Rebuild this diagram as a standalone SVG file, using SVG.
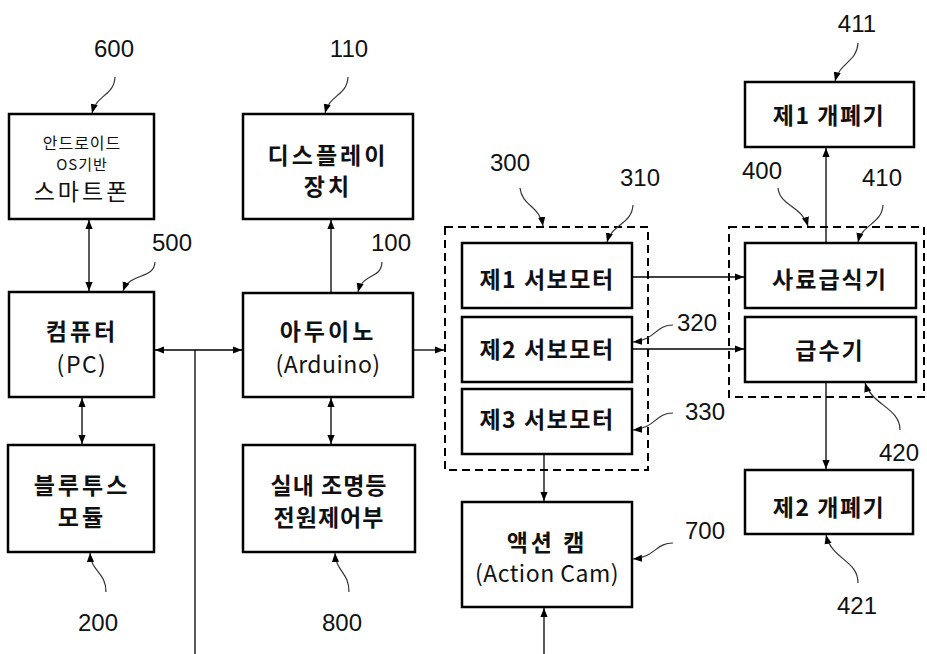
<svg xmlns="http://www.w3.org/2000/svg" width="927" height="654" viewBox="0 0 927 654">
<style>
.box{fill:#fff;stroke:#000;stroke-width:2.5}
.dash{fill:none;stroke:#000;stroke-width:2;stroke-dasharray:8 5}
.ln{fill:none;stroke:#000;stroke-width:1.3}
.ld{fill:none;stroke:#333;stroke-width:1.2}
.t{font-family:"Noto Sans CJK KR","Liberation Sans",sans-serif;font-size:23px;font-weight:bold;text-anchor:middle;fill:#111;letter-spacing:1.5px}
.s{font-family:"Noto Sans CJK KR","Liberation Sans",sans-serif;font-size:16px;text-anchor:middle;fill:#111;letter-spacing:1px}
.n{font-family:"Liberation Sans",Arial,sans-serif;font-size:24px;text-anchor:middle;fill:#111}
</style>
<defs>
<marker id="a" viewBox="0 0 10 10" refX="10" refY="5" markerWidth="9" markerHeight="9" markerUnits="userSpaceOnUse" orient="auto-start-reverse"><path d="M0,1 L10,5 L0,9 Z" fill="#000"/></marker>
</defs>

<g id="n600"><rect class="box" x="9" y="114" width="145" height="105"/>
<text class="s" x="82" y="149">안드로이드</text>
<text class="s" x="82" y="170" style="font-size:15px">OS기반</text>
<text class="t" x="82" y="200" style="font-weight:normal;letter-spacing:3px">스마트폰</text></g>

<g id="n110"><rect class="box" x="243" y="114" width="170" height="105"/>
<text class="t" x="328" y="164" style="letter-spacing:3px">디스플레이</text>
<text class="t" x="328" y="195" style="letter-spacing:3px">장치</text></g>

<g id="n500"><rect class="box" x="9" y="292" width="145" height="105"/>
<text class="t" x="82" y="340" style="letter-spacing:3px">컴퓨터</text>
<text class="t" x="82" y="373" style="font-weight:normal">(PC)</text></g>

<g id="n100"><rect class="box" x="243" y="293" width="170" height="104"/>
<text class="t" x="328" y="340" style="letter-spacing:3px">아두이노</text>
<text class="t" x="328" y="373" style="font-weight:normal;letter-spacing:0.5px">(Arduino)</text></g>

<g id="n200"><rect class="box" x="8" y="445" width="146" height="107"/>
<text class="t" x="82" y="494" style="letter-spacing:3px">블루투스</text>
<text class="t" x="82" y="526" style="letter-spacing:3px">모듈</text></g>

<g id="n800"><rect class="box" x="243" y="445" width="172" height="107"/>
<text class="t" x="329" y="494" style="letter-spacing:1px">실내 조명등</text>
<text class="t" x="329" y="526" style="letter-spacing:1px">전원제어부</text></g>

<g id="n300"><rect class="dash" x="445" y="227" width="203" height="243"/></g>
<g id="n310"><rect class="box" x="462" y="243" width="170" height="65"/>
<text class="t" x="547" y="288">제1 서보모터</text></g>
<g id="n320"><rect class="box" x="462" y="317" width="170" height="65"/>
<text class="t" x="547" y="358">제2 서보모터</text></g>
<g id="n330"><rect class="box" x="462" y="389" width="170" height="65"/>
<text class="t" x="547" y="428">제3 서보모터</text></g>

<g id="n700"><rect class="box" x="462" y="502" width="170" height="105"/>
<text class="t" x="547" y="551" style="letter-spacing:3px">액션 캠</text>
<text class="t" x="547" y="582" style="font-weight:normal;letter-spacing:0.5px">(Action Cam)</text></g>

<g id="n400"><rect class="dash" x="729" y="227" width="195" height="170"/></g>
<g id="n410"><rect class="box" x="745" y="243" width="171" height="65"/>
<text class="t" x="830" y="288" style="letter-spacing:2px">사료급식기</text></g>
<g id="n420"><rect class="box" x="745" y="317" width="171" height="65"/>
<text class="t" x="830" y="359" style="letter-spacing:2px">급수기</text></g>

<g id="n411"><rect class="box" x="745" y="82" width="169" height="65"/>
<text class="t" x="829" y="124">제1 개폐기</text></g>
<g id="n421"><rect class="box" x="745" y="470" width="168" height="64"/>
<text class="t" x="829" y="516">제2 개폐기</text></g>

<g id="connectors">
<line class="ln" x1="89" y1="220" x2="89" y2="291" marker-start="url(#a)" marker-end="url(#a)"/>
<line class="ln" x1="82" y1="398" x2="82" y2="444" marker-start="url(#a)" marker-end="url(#a)"/>
<line class="ln" x1="155" y1="350" x2="242" y2="350" marker-start="url(#a)" marker-end="url(#a)"/>
<line class="ln" x1="195" y1="350" x2="195" y2="654"/>
<line class="ln" x1="331" y1="293" x2="331" y2="220" marker-end="url(#a)"/>
<line class="ln" x1="331" y1="398" x2="331" y2="444" marker-start="url(#a)" marker-end="url(#a)"/>
<line class="ln" x1="413" y1="350" x2="444" y2="350" marker-end="url(#a)"/>
<line class="ln" x1="632" y1="277" x2="744" y2="277" marker-end="url(#a)"/>
<line class="ln" x1="632" y1="349" x2="744" y2="349" marker-end="url(#a)"/>
<line class="ln" x1="544" y1="454" x2="544" y2="501" marker-end="url(#a)"/>
<line class="ln" x1="544" y1="654" x2="544" y2="608" marker-end="url(#a)"/>
<line class="ln" x1="826" y1="243" x2="826" y2="148" marker-end="url(#a)"/>
<line class="ln" x1="826" y1="382" x2="826" y2="469" marker-end="url(#a)"/>
</g>

<g id="labels">
<text class="n" x="114" y="57">600</text>
<path class="ld" d="M115,77 C114,96 97,94 92,113" marker-end="url(#a)"/>
<text class="n" x="349" y="57">110</text>
<path class="ld" d="M348,77 C347,96 330,94 325,113" marker-end="url(#a)"/>
<text class="n" x="172" y="251">500</text>
<path class="ld" d="M155,262 C154,280 130,272 123,291" marker-end="url(#a)"/>
<text class="n" x="391" y="251">100</text>
<path class="ld" d="M382,262 C381,280 363,272 358,292" marker-end="url(#a)"/>
<text class="n" x="510" y="171">300</text>
<path class="ld" d="M520,188 C522,206 540,206 543,226" marker-end="url(#a)"/>
<text class="n" x="640" y="186">310</text>
<path class="ld" d="M633,205 C632,224 612,224 607,242" marker-end="url(#a)"/>
<text class="n" x="762" y="179">400</text>
<path class="ld" d="M778,188 C780,206 802,206 808,226" marker-end="url(#a)"/>
<text class="n" x="882" y="186">410</text>
<path class="ld" d="M883,205 C882,224 862,224 858,242" marker-end="url(#a)"/>
<text class="n" x="857" y="32">411</text>
<path class="ld" d="M858,43 C857,62 840,62 835,81" marker-end="url(#a)"/>
<text class="n" x="697" y="331">320</text>
<path class="ld" d="M673,325 C655,325 656,340 633,342" marker-end="url(#a)"/>
<text class="n" x="705" y="420">330</text>
<path class="ld" d="M673,413 C655,413 656,428 633,430" marker-end="url(#a)"/>
<text class="n" x="705" y="539">700</text>
<path class="ld" d="M673,543 C655,543 656,557 633,559" marker-end="url(#a)"/>
<text class="n" x="899" y="461">420</text>
<path class="ld" d="M900,430 C900,408 872,405 865,383" marker-end="url(#a)"/>
<text class="n" x="857" y="614">421</text>
<path class="ld" d="M858,583 C858,560 832,560 826,535" marker-end="url(#a)"/>
<text class="n" x="98" y="631">200</text>
<path class="ld" d="M106,592 C106,572 91,572 90,553" marker-end="url(#a)"/>
<text class="n" x="342" y="631">800</text>
<path class="ld" d="M349,592 C349,572 336,572 335,553" marker-end="url(#a)"/>
</g>
</svg>
